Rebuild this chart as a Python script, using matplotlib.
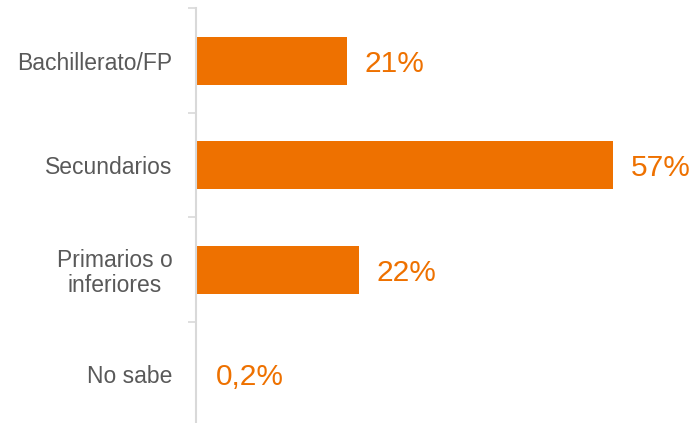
import matplotlib.pyplot as plt
from matplotlib.ticker import FixedLocator

# Datos del gráfico
categorias = ['Bachillerato/FP', 'Secundarios', 'Primarios o\ninferiores', 'No sabe']
valores = [20.6, 57.0, 22.2, 0.2]
etiquetas = ['21%', '57%', '22%', '0,2%']

naranja = '#EE7100'
gris_texto = '#595959'
gris_eje = '#D9D9D9'

plt.rcParams['font.family'] = ['Liberation Sans', 'DejaVu Sans']

fig = plt.figure(figsize=(6.97, 4.23), dpi=100)
ax = fig.add_axes([196 / 697, -3.5 / 423, 501 / 697, 418 / 423])

pos = list(range(len(categorias)))
ax.barh(pos, valores, height=0.46, color=naranja)

# Etiquetas de valor a la derecha de cada barra
for p, v, txt in zip(pos, valores, etiquetas):
    ax.annotate(txt, (v, p), xytext=(13, -2), textcoords='offset points',
                ha='left', va='center', fontsize=21.5, color=naranja)

ax.set_xlim(0, 501 / 7.32)
ax.set_ylim(3.5, -0.5)

ax.set_yticks(pos)
ax.set_yticklabels(categorias, fontsize=16.5, color=gris_texto,
                   multialignment='center', linespacing=1.1)
ax.tick_params(axis='y', which='major', length=0, pad=17)
ax.yaxis.set_minor_locator(FixedLocator([-0.5, 0.5, 1.5, 2.5, 3.5]))
ax.tick_params(axis='y', which='minor', length=6, width=1.2, color=gris_eje)

ax.set_xticks([])
for lado in ['top', 'right', 'bottom']:
    ax.spines[lado].set_visible(False)
ax.spines['left'].set_color(gris_eje)
ax.spines['left'].set_linewidth(1.5)

fig.savefig('out.png', dpi=100)
